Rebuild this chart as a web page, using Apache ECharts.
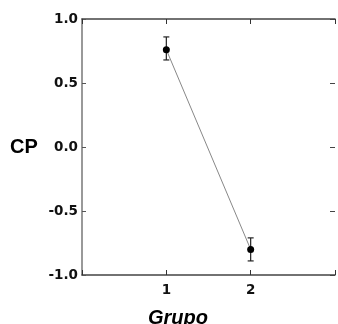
<!DOCTYPE html>
<html>
<head>
<meta charset="utf-8">
<script src="https://cdn.jsdelivr.net/npm/echarts@6/dist/echarts.min.js"></script>
<style>
  html, body { margin: 0; padding: 0; background: #fff; }
  #chart { width: 338px; height: 324px; }
</style>
</head>
<body>
<div id="chart"></div>
<script>
// Group means of CP with their error-bar limits
const groups = [1, 2];
const means = [0.76, -0.80];
const upper = [0.86, -0.71];
const lower = [0.68, -0.89];
const yTicks = [-1.0, -0.5, 0.0, 0.5, 1.0];
const xTickLabels = ['1', '2'];

const font = 'Liberation Sans, Arial, sans-serif';
const tickFont = 'DejaVu Sans, sans-serif';
const chart = echarts.init(document.getElementById('chart'), null, { renderer: 'canvas' });

const linePoints = groups.map((g, i) => [g, means[i]]);
const barData = groups.map((g, i) => [g, lower[i], upper[i]]);

chart.setOption({
  animation: false,
  backgroundColor: '#fff',
  grid: { left: 82, right: 0, top: 19, bottom: 49, containLabel: false },
  xAxis: [
    {
      type: 'value', min: 0, max: 3, interval: 1, position: 'bottom',
      axisLine: { show: true, onZero: false, lineStyle: { color: '#444', width: 1.5 } },
      axisTick: { show: true, inside: true, length: 5, lineStyle: { color: '#333', width: 1 } },
      axisLabel: {
        color: '#111', fontFamily: tickFont, fontWeight: 'bold', fontSize: 13.5, margin: 8,
        formatter: v => (v === 1 || v === 2) ? xTickLabels[v - 1] : ''
      },
      splitLine: { show: false }
    },
    {
      type: 'value', min: 0, max: 3, interval: 1, position: 'top',
      axisLine: { show: true, onZero: false, lineStyle: { color: '#444', width: 1.5 } },
      axisTick: { show: true, inside: true, length: 5, lineStyle: { color: '#333', width: 1 } },
      axisLabel: { show: false },
      splitLine: { show: false }
    }
  ],
  yAxis: [
    {
      type: 'value', min: -1, max: 1, interval: 0.5, position: 'left',
      axisLine: { show: true, onZero: false, lineStyle: { color: '#777', width: 1.5 } },
      axisTick: { show: true, inside: true, length: 4, lineStyle: { color: '#555', width: 1 } },
      axisLabel: {
        color: '#111', fontFamily: tickFont, fontWeight: 'bold', fontSize: 13.5, margin: 4,
        formatter: v => v.toFixed(1)
      },
      splitLine: { show: false }
    },
    {
      type: 'value', min: -1, max: 1, interval: 0.5, position: 'right',
      axisLine: { show: false, onZero: false },
      axisTick: { show: true, inside: true, length: 5, lineStyle: { color: '#444', width: 1 } },
      axisLabel: { show: false },
      splitLine: { show: false }
    }
  ],
  series: [
    {
      type: 'line',
      data: linePoints,
      symbol: 'circle',
      symbolSize: 7,
      itemStyle: { color: '#000' },
      lineStyle: { color: '#888', width: 1 },
      z: 3
    },
    {
      type: 'custom',
      data: barData,
      renderItem: function (params, api) {
        const x = api.value(0);
        const lo = api.coord([x, api.value(1)]);
        const hi = api.coord([x, api.value(2)]);
        const half = 3;
        const style = { stroke: '#222', lineWidth: 1.2 };
        return {
          type: 'group',
          children: [
            { type: 'line', shape: { x1: lo[0], y1: lo[1], x2: hi[0], y2: hi[1] }, style },
            { type: 'line', shape: { x1: lo[0] - half, y1: lo[1], x2: lo[0] + half, y2: lo[1] }, style },
            { type: 'line', shape: { x1: hi[0] - half, y1: hi[1], x2: hi[0] + half, y2: hi[1] }, style }
          ]
        };
      },
      z: 2
    }
  ],
  graphic: [
    {
      type: 'text', left: 10, top: 137,
      style: { text: 'CP', fill: '#000', font: 'bold 20px ' + font }
    },
    {
      type: 'text', left: 148, top: 308,
      style: { text: 'Grupo', fill: '#000', font: 'italic bold 20px ' + font }
    }
  ]
});
</script>
</body>
</html>
